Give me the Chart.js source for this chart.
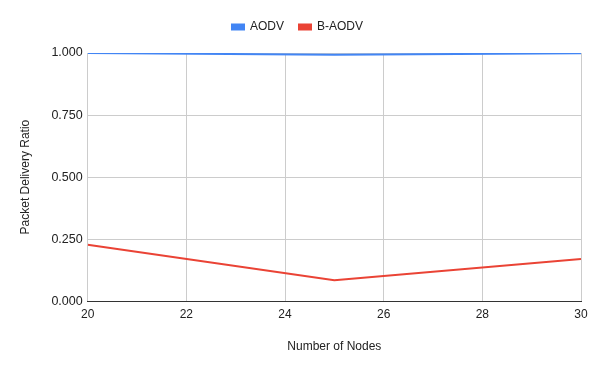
<!DOCTYPE html>
<html>
<head>
<meta charset="utf-8">
<script src="https://cdn.jsdelivr.net/npm/chart.js@4/dist/chart.umd.min.js"></script>
<style>
  html, body { margin: 0; padding: 0; background: #fff; }
  #wrap { width: 600px; height: 371px; }
</style>
</head>
<body>
<div id="wrap"><canvas id="chart"></canvas></div>
<script>
// data
var nodes = [20, 25, 30]
var aodv = [1.0, 0.993, 0.999]
var baodv = [0.227, 0.084, 0.170]
var yTicks = [0, 0.25, 0.5, 0.75, 1]

function points(ys){
    return nodes.map(function(x, i){ return {x: x, y: ys[i]} })
}

Chart.defaults.font.family = "'Liberation Sans', Arial, sans-serif"
Chart.defaults.font.size = 12
Chart.defaults.color = '#222'

// extra room under the legend
const legendGap = {
    id: 'legendGap',
    beforeInit: function(chart){
        const fit = chart.legend.fit
        chart.legend.fit = function(){
            fit.bind(chart.legend)()
            this.height += 10
        }
    }
}

const ctx = document.getElementById('chart').getContext('2d')
const chart = new Chart(ctx, {
    type: 'line',
    data: {
        datasets: [{
            label: 'AODV',
            data: points(aodv),
            borderColor: '#4285F4',
            backgroundColor: '#4285F4',
            borderWidth: 2,
            pointRadius: 0,
            tension: 0
        }, {
            label: 'B-AODV',
            data: points(baodv),
            borderColor: '#EA4335',
            backgroundColor: '#EA4335',
            borderWidth: 2,
            pointRadius: 0,
            tension: 0
        }]
    },
    options: {
        responsive: true,
        maintainAspectRatio: false,
        animation: false,
        layout: {
            padding: {left: 14, right: 19, top: 6, bottom: 13}
        },
        scales: {
            x: {
                type: 'linear',
                min: 20,
                max: 30,
                ticks: {stepSize: 2, padding: 6},
                grid: {color: '#cccccc', drawTicks: false},
                border: {color: '#333333', width: 1},
                title: {display: true, text: 'Number of Nodes', padding: {top: 12}}
            },
            y: {
                min: 0,
                max: 1,
                afterBuildTicks: function(axis){
                    axis.ticks = yTicks.map(function(v){ return {value: v} })
                },
                ticks: {
                    padding: 5,
                    font: {size: 12.5},
                    callback: function(v){ return v.toFixed(3) }
                },
                grid: {color: '#cccccc', drawTicks: false},
                border: {display: false},
                title: {display: true, text: 'Packet Delivery Ratio', padding: {bottom: 14}}
            }
        },
        plugins: {
            legend: {
                position: 'top',
                labels: {
                    boxWidth: 12,
                    boxHeight: 5,
                    padding: 15,
                    color: '#222'
                }
            },
            tooltip: {enabled: false}
        }
    },
    plugins: [legendGap]
})
</script>
</body>
</html>
